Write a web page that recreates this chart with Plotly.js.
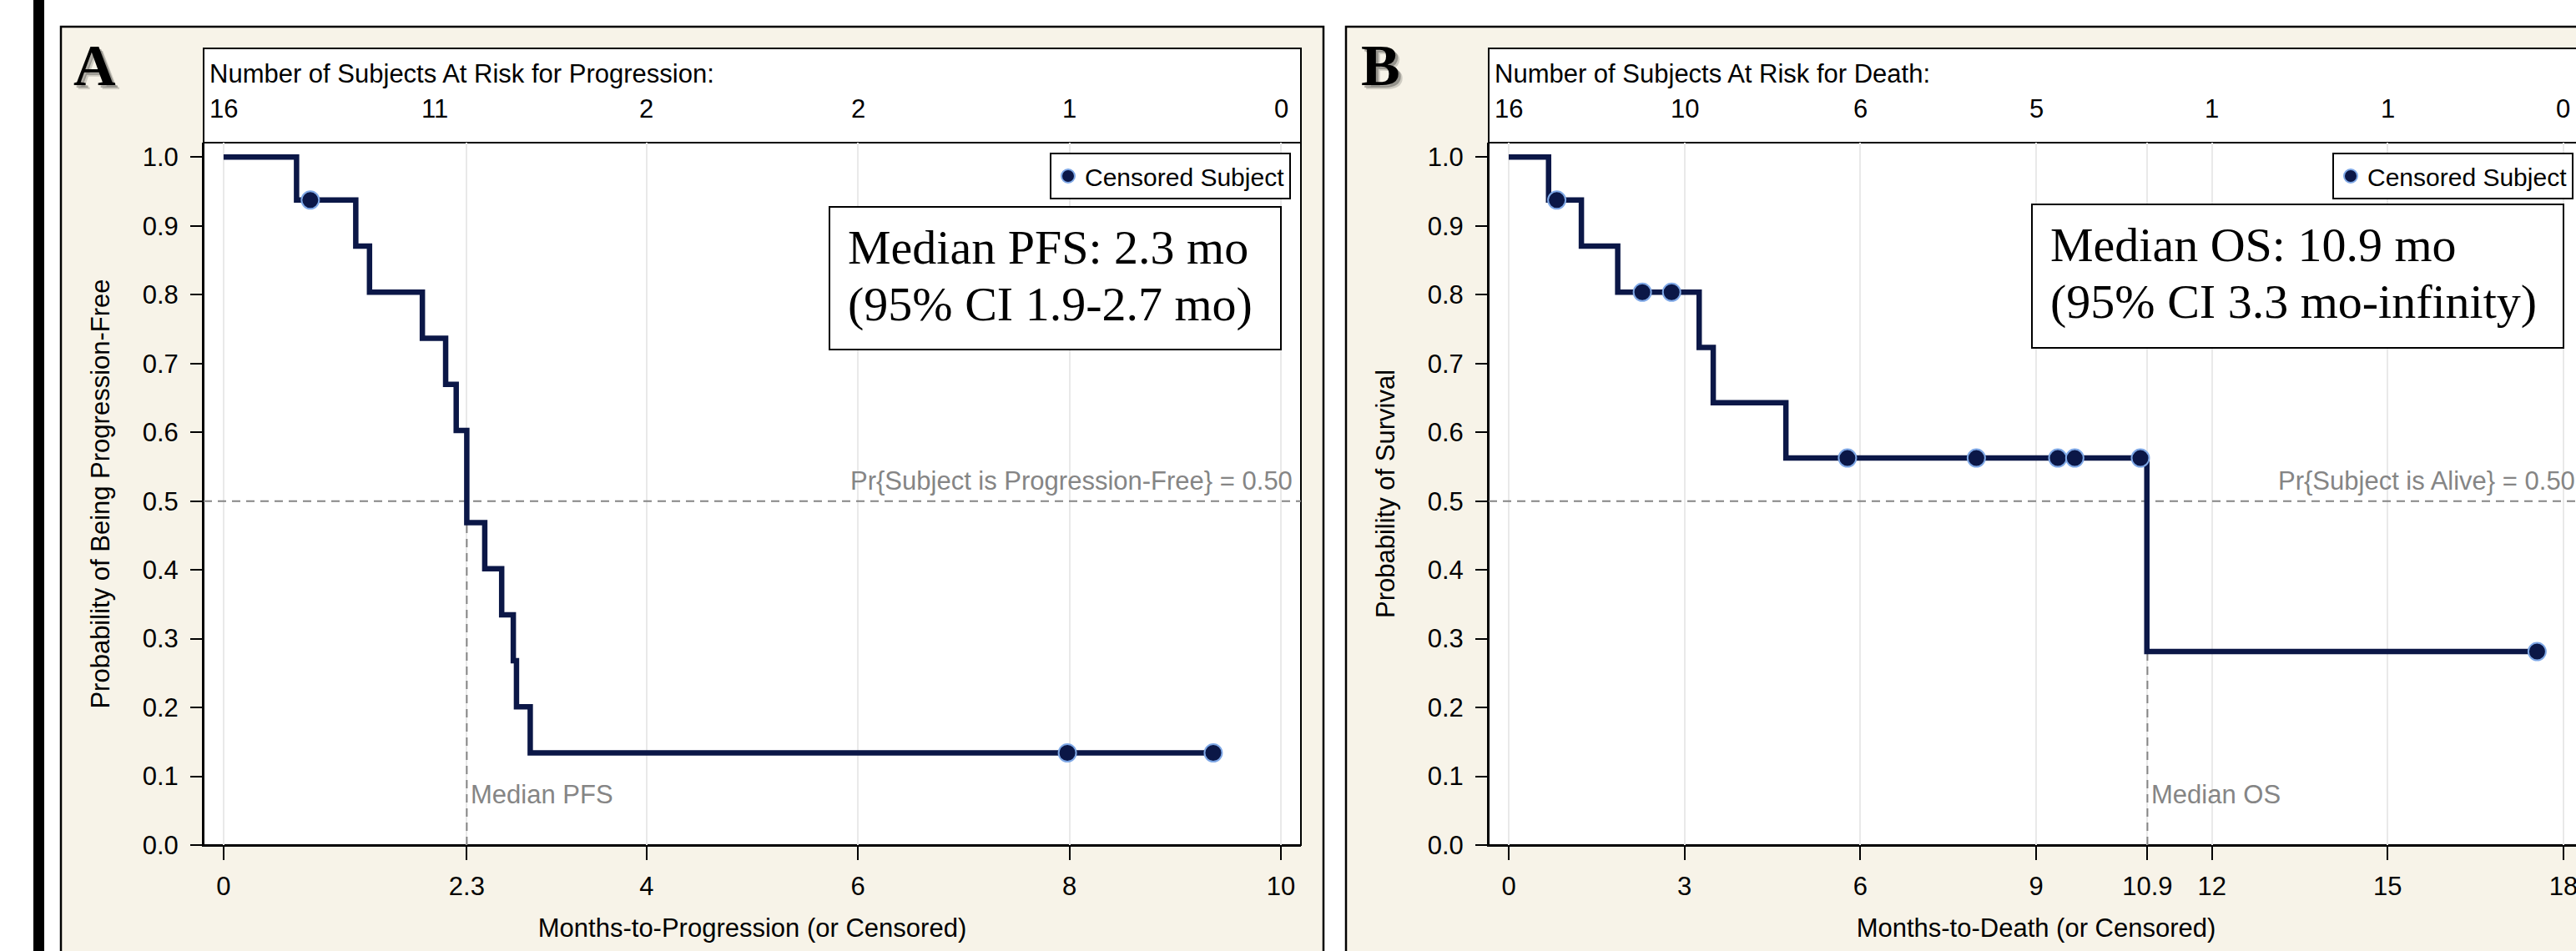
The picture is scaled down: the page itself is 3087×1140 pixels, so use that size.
<!DOCTYPE html>
<html><head><meta charset="utf-8">
<script src="https://cdn.plot.ly/plotly-3.0.1.min.js"></script>
<style>html,body{margin:0;padding:0;overflow:hidden;background:#fff;width:3087px;height:1140px}</style>
</head><body><div id="chart"></div>
<script>
// ---------------- DATA ----------------
// Panel A: progression-free survival (Kaplan-Meier)
const pfsEventTimes = [0.69, 1.25, 1.38, 1.88, 2.10, 2.20, 2.30, 2.47, 2.63, 2.74, 2.77, 2.90];
const pfsSurvival   = [0.9375, 0.8705, 0.8036, 0.7366, 0.6696, 0.6027, 0.4688, 0.4018, 0.3348, 0.2679, 0.2009, 0.1339];
const pfsCensorTimes = [0.82, 7.98, 9.36];
const pfsCensorSurv  = [0.9375, 0.1339, 0.1339];
const pfsRiskTimes  = [0, 2, 4, 6, 8, 10];
const pfsRiskCounts = [16, 11, 2, 2, 1, 0];
const pfsTickVals = [0, 2.3, 4, 6, 8, 10];
const pfsTickText = ['0', '2.3', '4', '6', '8', '10'];
const pfsMedian = 2.3;
const pfsRange = [-0.189, 10.189];

// Panel B: overall survival (Kaplan-Meier)
const osEventTimes = [0.68, 1.24, 1.86, 3.25, 3.49, 4.73, 10.89];
const osSurvival   = [0.9375, 0.8705, 0.8036, 0.7232, 0.6429, 0.5625, 0.2813];
const osCensorTimes = [0.82, 2.28, 2.78, 5.78, 7.98, 9.37, 9.66, 10.78, 17.55];
const osCensorSurv  = [0.9375, 0.8036, 0.8036, 0.5625, 0.5625, 0.5625, 0.5625, 0.5625, 0.2813];
const osRiskTimes  = [0, 3, 6, 9, 12, 15, 18];
const osRiskCounts = [16, 10, 6, 5, 1, 1, 0];
const osTickVals = [0, 3, 6, 9, 10.9, 12, 15, 18];
const osTickText = ['0', '3', '6', '9', '10.9', '12', '15', '18'];
const osMedian = 10.9;
const osRange = [-0.342, 18.342];

const yTickVals = [0, 0.1, 0.2, 0.3, 0.4, 0.5, 0.6, 0.7, 0.8, 0.9, 1.0];
const yTickText = ['0.0','0.1','0.2','0.3','0.4','0.5','0.6','0.7','0.8','0.9','1.0'];
const refProb = 0.5;

// ---------------- STYLE / GEOMETRY ----------------
const W = 3110, H = 1165;
const SANS = 'Liberation Sans, Arial, sans-serif';
const SERIF = 'Liberation Serif, Times New Roman, serif';
const FS = 31;
const NAVY = '#0b1747';
const EDGE = '#7fa8e6';
const GRAY = '#858585';
const BEIGE = '#f7f3e8';
const px = v => v / W;
const py = v => 1 - v / H;

const P = {
  A: {left: 244, right: 1559, panelL: 73, panelR: 1586, lblX: 113.5, legR: 1547,
      boxL: 994, boxR: 1535, boxT: 248, boxB: 419, hdrX: 249},
  B: {left: 1784, right: 3096, panelL: 1613, panelR: 3140, lblX: 1654, legR: 3084,
      boxL: 2435, boxR: 3072, boxT: 245, boxB: 417, hdrX: 1789}
};
const boxTop = 58, riskSep = 171, plotBot = 1013;

function stepX(ev, cens) { return [0].concat(ev, [Math.max.apply(null, cens)]); }
function stepY(sv) { return [1].concat(sv, [sv[sv.length - 1]]); }
function survAt(ev, sv, t) { let s = 1; ev.forEach((e, i) => { if (e <= t + 0.02) s = sv[i]; }); return s; }

const dash = {color: GRAY, width: 2, dash: '10px,7px'};
function refTraces(xa, ya, range, median, ev, sv) {
  return [
    {x: range, y: [refProb, refProb], xaxis: xa, yaxis: ya, mode: 'lines', line: dash, showlegend: false, hoverinfo: 'skip', cliponaxis: false},
    {x: [median, median], y: [0, survAt(ev, sv, median)], xaxis: xa, yaxis: ya, mode: 'lines', line: dash, showlegend: false, hoverinfo: 'skip'}
  ];
}

const traces = [].concat(
  refTraces('x', 'y', pfsRange, pfsMedian, pfsEventTimes, pfsSurvival),
  refTraces('x2', 'y2', osRange, osMedian, osEventTimes, osSurvival),
  [
  {x: stepX(pfsEventTimes, pfsCensorTimes), y: stepY(pfsSurvival), xaxis: 'x', yaxis: 'y',
   mode: 'lines', line: {shape: 'hv', color: NAVY, width: 6.5}, showlegend: false, hoverinfo: 'skip'},
  {x: pfsCensorTimes, y: pfsCensorSurv, xaxis: 'x', yaxis: 'y', mode: 'markers', name: 'Censored Subject',
   marker: {color: NAVY, size: 21, line: {color: EDGE, width: 2}}, showlegend: true, legend: 'legend'},
  {x: stepX(osEventTimes, osCensorTimes), y: stepY(osSurvival), xaxis: 'x2', yaxis: 'y2',
   mode: 'lines', line: {shape: 'hv', color: NAVY, width: 6.5}, showlegend: false, hoverinfo: 'skip'},
  {x: osCensorTimes, y: osCensorSurv, xaxis: 'x2', yaxis: 'y2', mode: 'markers', name: 'Censored Subject',
   marker: {color: NAVY, size: 21, line: {color: EDGE, width: 2}}, showlegend: true, legend: 'legend2'}
  ]);

function xAxis(p, range, tv, tt, title, anchor) {
  return {domain: [px(p.left), px(p.right)], range: range, anchor: anchor,
    tickmode: 'array', tickvals: tv, ticktext: tt, ticks: 'outside', ticklen: 16, tickwidth: 2,
    tickcolor: '#000', showline: true, linecolor: '#000', linewidth: 2, zeroline: false,
    showgrid: true, gridcolor: '#e9e9e9', gridwidth: 2, ticklabelstandoff: 5,
    tickfont: {family: SANS, size: FS, color: '#000'},
    title: {text: title, font: {family: SANS, size: FS, color: '#000'}, standoff: 22}, fixedrange: true};
}
function yAxis(title, anchor) {
  return {domain: [py(plotBot), py(riskSep)], range: [0, 1.021], anchor: anchor,
    tickmode: 'array', tickvals: yTickVals, ticktext: yTickText, ticks: 'outside', ticklen: 14, tickwidth: 2,
    tickcolor: '#000', showline: true, linecolor: '#000', linewidth: 2, zeroline: false, showgrid: false,
    ticklabelstandoff: 8, tickfont: {family: SANS, size: FS, color: '#000'},
    title: {text: title, font: {family: SANS, size: FS, color: '#000'}, standoff: 30}, fixedrange: true};
}

const shapes = [
  {type: 'rect', xref: 'paper', yref: 'paper', x0: px(40), x1: px(53), y0: 0, y1: 1, fillcolor: '#000', line: {width: 0}, layer: 'below'}
];
const annotations = [];

function panel(key, letter, header, xa, ya, riskTimes, riskCounts, median, refText, medText) {
  const p = P[key];
  shapes.push({type: 'rect', xref: 'paper', yref: 'paper', x0: px(p.panelL), x1: px(p.panelR), y0: py(H + 20), y1: py(32),
    fillcolor: BEIGE, line: {color: '#000', width: 2.5}, layer: 'below'});
  shapes.push({type: 'rect', xref: 'paper', yref: 'paper', x0: px(p.left), x1: px(p.right), y0: py(plotBot), y1: py(boxTop),
    fillcolor: '#fff', line: {color: '#000', width: 2}, layer: 'below'});
  shapes.push({type: 'line', xref: 'paper', yref: 'paper', x0: px(p.left), x1: px(p.right), y0: py(riskSep), y1: py(riskSep),
    line: {color: '#000', width: 2}, layer: 'below'});
  shapes.push({type: 'rect', xref: 'paper', yref: 'paper', x0: px(p.boxL), x1: px(p.boxR), y0: py(p.boxB), y1: py(p.boxT),
    fillcolor: '#fff', line: {color: '#000', width: 2}});

  [[5, 'rgba(0,0,0,0.16)'], [3, 'rgba(0,0,0,0.28)'], [0, '#000']].forEach(function (s) {
    annotations.push({xref: 'paper', yref: 'paper', x: px(p.lblX), y: py(78.5), xanchor: 'center', yanchor: 'middle',
      xshift: s[0], yshift: -s[0], showarrow: false, text: '<b>' + letter + '</b>',
      font: {family: SERIF, size: 70, color: s[1]}});
  });
  annotations.push({xref: 'paper', yref: 'paper', x: px(p.hdrX), y: py(89), xanchor: 'left', yanchor: 'middle',
    showarrow: false, text: header, font: {family: SANS, size: FS, color: '#000'}});
  riskTimes.forEach(function (t, i) {
    annotations.push({xref: xa, yref: 'paper', x: t, y: py(131), xanchor: 'center', yanchor: 'middle',
      showarrow: false, text: String(riskCounts[i]), font: {family: SANS, size: FS, color: '#000'}});
  });
  annotations.push({xref: xa + ' domain', yref: ya, x: 1, y: 0.529, xanchor: 'right', yanchor: 'middle', xshift: -8,
    showarrow: false, text: refText, font: {family: SANS, size: FS, color: GRAY}});
  annotations.push({xref: xa, yref: ya, x: median, y: 0.073, xanchor: 'left', yanchor: 'middle', xshift: 3,
    showarrow: false, text: medText, font: {family: SANS, size: FS, color: GRAY}});
}

panel('A', 'A', 'Number of Subjects At Risk for Progression:', 'x', 'y', pfsRiskTimes, pfsRiskCounts, pfsMedian,
  'Pr{Subject is Progression-Free} = 0.50', 'Median PFS');
panel('B', 'B', 'Number of Subjects At Risk for Death:', 'x2', 'y2', osRiskTimes, osRiskCounts, osMedian,
  'Pr{Subject is Alive} = 0.50', 'Median OS');

function statLines(key, l1, l2) {
  const p = P[key];
  annotations.push({xref: 'paper', yref: 'paper', x: px(p.boxL + 20), y: py(p.boxT + 48), xanchor: 'left', yanchor: 'middle',
    showarrow: false, text: l1, font: {family: SERIF, size: 58, color: '#000'}});
  annotations.push({xref: 'paper', yref: 'paper', x: px(p.boxL + 20), y: py(p.boxT + 116), xanchor: 'left', yanchor: 'middle',
    showarrow: false, text: l2, font: {family: SERIF, size: 58, color: '#000'}});
}
statLines('A', 'Median PFS: 2.3 mo', '(95% CI 1.9-2.7 mo)');
statLines('B', 'Median OS: 10.9 mo', '(95% CI 3.3 mo-infinity)');

function legendCfg(p) {
  return {x: px(p.legR), xanchor: 'right', y: py(183), yanchor: 'top', bgcolor: '#fff', bordercolor: '#000', borderwidth: 2,
    font: {family: SANS, size: 30, color: '#000'}, itemwidth: 30, orientation: 'v', valign: 'middle'};
}

const layout = {
  width: W, height: H, autosize: false,
  margin: {l: 0, r: 0, t: 0, b: 0, pad: 0},
  paper_bgcolor: '#fff', plot_bgcolor: 'rgba(0,0,0,0)',
  xaxis: xAxis(P.A, pfsRange, pfsTickVals, pfsTickText, 'Months-to-Progression (or Censored)', 'y'),
  yaxis: yAxis('Probability of Being Progression-Free', 'x'),
  xaxis2: xAxis(P.B, osRange, osTickVals, osTickText, 'Months-to-Death (or Censored)', 'y2'),
  yaxis2: yAxis('Probability of Survival', 'x2'),
  legend: legendCfg(P.A),
  legend2: legendCfg(P.B),
  shapes: shapes,
  annotations: annotations,
  showlegend: true
};

Plotly.newPlot('chart', traces, layout, {staticPlot: true, displayModeBar: false});
</script>
</body></html>
